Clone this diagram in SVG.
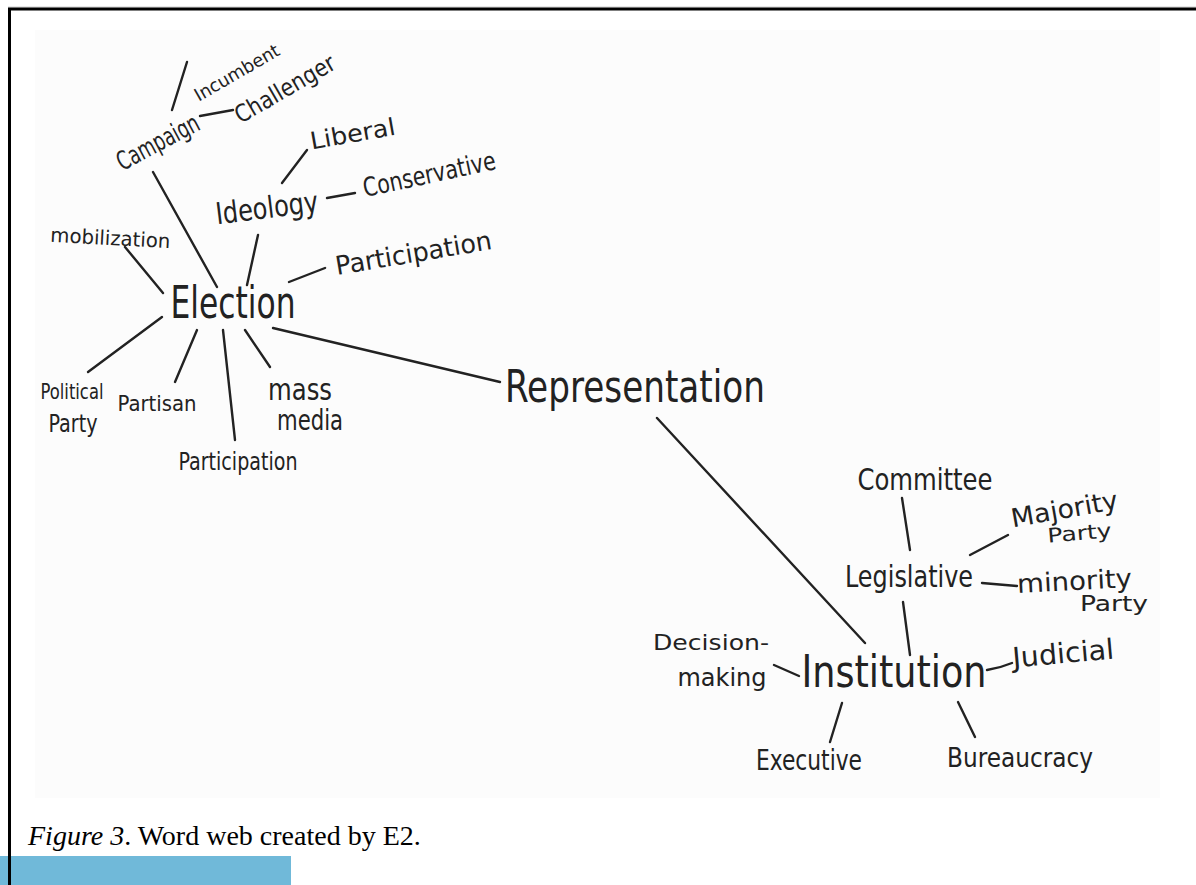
<svg xmlns="http://www.w3.org/2000/svg" width="1196" height="885" viewBox="0 0 1196 885">
  <style>
    .w { font-family: "Liberation Sans Narrow", "DejaVu Sans Condensed", sans-serif; fill: #222; text-anchor: middle; }
    .ln { stroke: #222; stroke-width: 2.4; stroke-linecap: round; fill: none; }
    .cap { font-family: "Liberation Serif", "Times New Roman", serif; fill: #000; font-size: 28px; }
  </style>

  <!-- page frame -->
  <rect x="0" y="0" width="1196" height="885" fill="#ffffff"/>
  <line x1="8" y1="7" x2="1196" y2="7" stroke="#cfcfcf" stroke-width="1"/>
  <rect x="35" y="30" width="1125" height="768" fill="#fcfcfc"/>
  <rect x="0" y="856" width="291" height="29" fill="#70b9d9"/>
  <line x1="8" y1="9" x2="1196" y2="9" stroke="#000" stroke-width="3"/>
  <line x1="9.5" y1="8" x2="9.5" y2="885" stroke="#000" stroke-width="3"/>

  <!-- connectors -->
  <g id="connectors">
    <line class="ln" x1="172" y1="110" x2="187" y2="62"/>
    <line class="ln" x1="200" y1="116" x2="233" y2="110"/>
    <line class="ln" x1="153" y1="172" x2="217" y2="287"/>
    <line class="ln" x1="282" y1="183" x2="307" y2="150"/>
    <line class="ln" x1="327" y1="198" x2="355" y2="193"/>
    <line class="ln" x1="258" y1="235" x2="247" y2="285"/>
    <line class="ln" x1="289" y1="282" x2="325" y2="268"/>
    <line class="ln" x1="125" y1="247" x2="163" y2="293" stroke-width="3"/>
    <line class="ln" x1="162" y1="317" x2="88" y2="372"/>
    <line class="ln" x1="197" y1="330" x2="175" y2="382"/>
    <line class="ln" x1="223" y1="330" x2="235" y2="440"/>
    <line class="ln" x1="245" y1="330" x2="270" y2="367"/>
    <line class="ln" x1="273" y1="328" x2="500" y2="382"/>
    <line class="ln" x1="657" y1="418" x2="865" y2="643"/>
    <line class="ln" x1="902" y1="498" x2="910" y2="550"/>
    <line class="ln" x1="970" y1="555" x2="1008" y2="535"/>
    <line class="ln" x1="982" y1="583" x2="1017" y2="586"/>
    <line class="ln" x1="903" y1="602" x2="910" y2="655"/>
    <path class="ln" d="M987 670 Q1000 668 1012 663"/>
    <line class="ln" x1="774" y1="665" x2="799" y2="676"/>
    <line class="ln" x1="842" y1="703" x2="830" y2="742"/>
    <line class="ln" x1="958" y1="702" x2="975" y2="737"/>
  </g>

  <!-- election cluster -->
  <g id="incumbent"><text class="w" x="240" y="78" font-size="18" textLength="95" lengthAdjust="spacingAndGlyphs" transform="rotate(-30 240 78)">Incumbent</text></g>
  <g id="challenger"><text class="w" x="289" y="96" font-size="24" textLength="112" lengthAdjust="spacingAndGlyphs" transform="rotate(-30 289 96)">Challenger</text></g>
  <g id="campaign"><text class="w" x="162" y="150" font-size="26" textLength="90" lengthAdjust="spacingAndGlyphs" transform="rotate(-28 162 150)">Campaign</text></g>
  <g id="liberal"><text class="w" x="354" y="142" font-size="24" textLength="86" lengthAdjust="spacingAndGlyphs" transform="rotate(-10 354 142)">Liberal</text></g>
  <g id="ideology"><text class="w" x="268" y="218" font-size="30" textLength="103" lengthAdjust="spacingAndGlyphs" transform="rotate(-7 268 218)">Ideology</text></g>
  <g id="conservative"><text class="w" x="431" y="183" font-size="26" textLength="135" lengthAdjust="spacingAndGlyphs" transform="rotate(-12 431 183)">Conservative</text></g>
  <g id="participation-upper"><text class="w" x="415" y="262" font-size="26" textLength="158" lengthAdjust="spacingAndGlyphs" transform="rotate(-9.5 415 262)">Participation</text></g>
  <g id="mobilization"><text class="w" x="110" y="245" font-size="20" textLength="120" lengthAdjust="spacingAndGlyphs" transform="rotate(3 110 245)">mobilization</text></g>
  <g id="election"><text class="w" x="233" y="318" font-size="44" textLength="125" lengthAdjust="spacingAndGlyphs">Election</text></g>
  <g id="political-party">
    <text class="w" x="72" y="399" font-size="22" textLength="63" lengthAdjust="spacingAndGlyphs">Political</text>
    <text class="w" x="73" y="432" font-size="24" textLength="49" lengthAdjust="spacingAndGlyphs">Party</text>
  </g>
  <g id="partisan"><text class="w" x="157" y="411" font-size="22" textLength="79" lengthAdjust="spacingAndGlyphs">Partisan</text></g>
  <g id="mass-media">
    <text class="w" x="300" y="400" font-size="30" textLength="64" lengthAdjust="spacingAndGlyphs">mass</text>
    <text class="w" x="310" y="430" font-size="28" textLength="66" lengthAdjust="spacingAndGlyphs">media</text>
  </g>
  <g id="participation-lower"><text class="w" x="238" y="470" font-size="24" textLength="119" lengthAdjust="spacingAndGlyphs">Participation</text></g>

  <!-- central node -->
  <g id="representation"><text class="w" x="635" y="402" font-size="44" textLength="260" lengthAdjust="spacingAndGlyphs">Representation</text></g>

  <!-- institution cluster -->
  <g id="committee"><text class="w" x="925" y="490" font-size="30" textLength="135" lengthAdjust="spacingAndGlyphs">Committee</text></g>
  <g id="majority-party">
    <text class="w" x="1066" y="518" font-size="26" textLength="108" lengthAdjust="spacingAndGlyphs" transform="rotate(-10 1066 518)">Majority</text>
    <text class="w" x="1080" y="540" font-size="20" textLength="64" lengthAdjust="spacingAndGlyphs" transform="rotate(-5 1080 540)">Party</text>
  </g>
  <g id="legislative"><text class="w" x="909" y="587" font-size="30" textLength="128" lengthAdjust="spacingAndGlyphs">Legislative</text></g>
  <g id="minority-party">
    <text class="w" x="1075" y="590" font-size="26" textLength="115" lengthAdjust="spacingAndGlyphs" transform="rotate(-3 1075 590)">minority</text>
    <text class="w" x="1114" y="611" font-size="22" textLength="68" lengthAdjust="spacingAndGlyphs">Party</text>
  </g>
  <g id="institution"><text class="w" x="894" y="687" font-size="44" textLength="185" lengthAdjust="spacingAndGlyphs">Institution</text></g>
  <g id="judicial"><text class="w" x="1064" y="663" font-size="28" textLength="102" lengthAdjust="spacingAndGlyphs" transform="rotate(-5 1064 663)">Judicial</text></g>
  <g id="decision-making">
    <text class="w" x="711" y="650" font-size="22" textLength="116" lengthAdjust="spacingAndGlyphs">Decision-</text>
    <text class="w" x="722" y="686" font-size="24" textLength="89" lengthAdjust="spacingAndGlyphs">making</text>
  </g>
  <g id="executive"><text class="w" x="809" y="770" font-size="28" textLength="106" lengthAdjust="spacingAndGlyphs">Executive</text></g>
  <g id="bureaucracy"><text class="w" x="1020" y="767" font-size="26" textLength="146" lengthAdjust="spacingAndGlyphs">Bureaucracy</text></g>

  <!-- caption -->
  <text class="cap" x="28" y="845"><tspan font-style="italic">Figure 3</tspan>. Word web created by E2.</text>
</svg>
